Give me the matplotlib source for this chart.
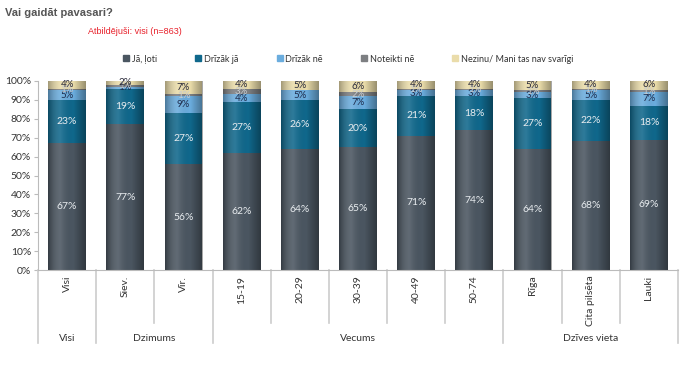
import matplotlib
matplotlib.use("Agg")
import matplotlib.pyplot as plt
from matplotlib.lines import Line2D
from matplotlib.colors import LinearSegmentedColormap
import numpy as np

categories = ["Visi", "Siev.", "Vīr.", "15-19", "20-29", "30-39", "40-49", "50-74", "Rīga", "Cita pilsēta", "Lauki"]
groups = ["Visi", "Dzimums", "Vecums", "Dzīves vieta"]
group_sizes = [1, 2, 5, 3]
series_names = ["Jā, ļoti", "Drīzāk jā", "Drīzāk nē", "Noteikti nē", "Nezinu/ Mani tas nav svarīgi"]
ja_loti     = [67, 77, 56, 62, 64, 65, 71, 74, 64, 68, 69]
drizak_ja   = [23, 19, 27, 27, 26, 20, 21, 18, 27, 22, 18]
drizak_ne   = [5, 1, 9, 4, 5, 7, 3, 3, 3, 5, 7]
noteikti_ne = [1, 1, 1, 3, 0, 2, 1, 1, 1, 1, 1]
nezinu      = [4, 2, 7, 4, 5, 6, 4, 4, 5, 4, 6]
yticks = [0, 10, 20, 30, 40, 50, 60, 70, 80, 90, 100]

series = [ja_loti, drizak_ja, drizak_ne, noteikti_ne, nezinu]
colors = ["#4b5661", "#10688c", "#6badde", "#7d7f82", "#eadcaa"]
label_colors = ["#e8ecef", "#e8ecef", "#1f2d4d", "#c8ccd0", "#2a2a3a"]

plt.rcParams['font.family'] = ['Lato', 'DejaVu Sans']
fig = plt.figure(figsize=(6.85, 3.86), dpi=100)
ax = fig.add_axes([38/685, (386-270)/386, 640/685, 189/386])

# cylinder-like shading overlay
shade_cmap = LinearSegmentedColormap.from_list(
    "shade", [(0, 0, 0, 0.30), (1, 1, 1, 0.12), (0, 0, 0, 0.0), (0, 0, 0, 0.35)])
grad = np.linspace(0, 1, 64).reshape(1, -1)

x = np.arange(len(categories))
width = 0.65
bottom = np.zeros(len(categories))
for vals, col, lc in zip(series, colors, label_colors):
    vals = np.array(vals, dtype=float)
    bars = ax.bar(x, vals, width, bottom=bottom, color=col, edgecolor="none", zorder=2)
    for xi, b, v in zip(x, bottom, vals):
        if v >= 1:
            ax.text(xi, b + v/2, f"{int(v)}%", ha="center", va="center",
                    fontsize=7.5 if v >= 10 else 7, color=lc, zorder=4)
    bottom += vals

for xi, tot in zip(x, bottom):
    im = ax.imshow(grad, extent=[xi - width/2, xi + width/2, 0, min(tot, 100)],
                   cmap=shade_cmap, aspect="auto", zorder=3, interpolation="bilinear")

ax.set_xlim(-0.5, len(categories) - 0.5)
ax.set_ylim(0, 100)
ax.set_yticks(yticks)
ax.set_yticklabels([f"{t}%" for t in yticks], fontsize=7.5, color="#333333")
ax.set_xticks([])
for s in ["top", "right"]:
    ax.spines[s].set_visible(False)
ax.spines["left"].set_color("#bbbbbb")
ax.spines["bottom"].set_color("#bbbbbb")
ax.tick_params(axis="y", length=3, color="#bbbbbb", pad=2)

trans = ax.get_xaxis_transform()
for xi, c in zip(x, categories):
    ax.text(xi, -0.03, c, rotation=90, ha="center", va="top", fontsize=7.5,
            color="#333333", transform=trans)

bounds = [-0.5]
for gs in group_sizes:
    bounds.append(bounds[-1] + gs)
for b in np.arange(-0.5, len(categories), 1.0):
    is_group = any(abs(b - gb) < 1e-6 for gb in bounds)
    ax.add_line(Line2D([b, b], [0, -0.386 if is_group else -0.28], transform=trans,
                       color="#cccccc", lw=1.2, clip_on=False))
for i, g in enumerate(groups):
    mid = (bounds[i] + bounds[i+1]) / 2
    ax.text(mid, -0.36, g, ha="center", va="center", fontsize=7.5, color="#333333",
            transform=trans)

fig.text(5/685, 1 - 13/386, "Vai gaidāt pavasari?", fontsize=8, fontweight="bold",
         color="#555555", family=["Liberation Sans", "DejaVu Sans"], va="center")
fig.text(88/685, 1 - 32/386, "Atbildējuši: visi (n=863)", fontsize=6.5,
         color="#e8202a", family=["Liberation Sans", "DejaVu Sans"], va="center")

handles = [Line2D([], [], marker="s", ls="none", markersize=4, color=c) for c in colors]
fig.legend(handles, series_names, loc="center", bbox_to_anchor=(348/685, 1 - 59/386),
           ncol=5, frameon=False, fontsize=6.5, handletextpad=0.2, columnspacing=4.2,
           handlelength=0.8, labelcolor="#333333")

fig.savefig("out.png", dpi=100, facecolor="white")
